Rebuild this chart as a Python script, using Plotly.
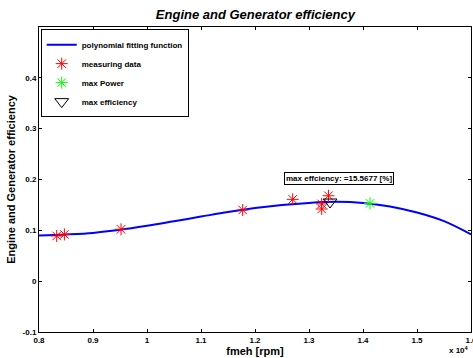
import plotly.graph_objects as go

# polynomial fitting curve
fit_rpm = [8000, 8500, 9000, 9500, 10000, 10500, 11000, 11500, 12000, 12500,
           13000, 13500, 14000, 14500, 15000, 15500, 16000]
fit_eff = [0.090, 0.092, 0.095, 0.101, 0.109, 0.118, 0.127, 0.136, 0.144, 0.150,
           0.154, 0.156, 0.154, 0.147, 0.135, 0.118, 0.092]

# measuring data
meas_rpm = [8328, 8470, 9519, 11772, 12698, 13235, 13235, 13360]
meas_eff = [0.089, 0.092, 0.102, 0.140, 0.161, 0.152, 0.142, 0.168]

# max power
pmax_rpm = [14130]
pmax_eff = [0.153]

# max efficiency
emax_rpm = [13389]
emax_eff = [0.1557]

xtick_vals = [8000, 9000, 10000, 11000, 12000, 13000, 14000, 15000, 16000]
xtick_text = ["0.8", "0.9", "1", "1.1", "1.2", "1.3", "1.4", "1.5", "1.6"]
ytick_vals = [-0.1, 0, 0.1, 0.2, 0.3, 0.4]
ytick_text = ["-0.1", "0", "0.1", "0.2", "0.3", "0.4"]

FONT = "Liberation Sans, Arial, sans-serif"

fig = go.Figure()
fig.add_trace(go.Scatter(x=fit_rpm, y=fit_eff, mode="lines", line_shape="spline",
                         line=dict(color="#0000ff", width=2),
                         name="<b>polynomial fitting function</b>"))
fig.add_trace(go.Scatter(x=meas_rpm, y=meas_eff, mode="markers",
                         marker=dict(symbol="asterisk-open", size=10, color="#ff0000",
                                     line=dict(color="#ff0000", width=1)),
                         name="<b>measuring data</b>"))
fig.add_trace(go.Scatter(x=pmax_rpm, y=pmax_eff, mode="markers",
                         marker=dict(symbol="asterisk-open", size=10, color="#00ff00",
                                     line=dict(color="#00ff00", width=1)),
                         name="<b>max Power</b>"))
fig.add_trace(go.Scatter(x=emax_rpm, y=emax_eff, mode="markers",
                         marker=dict(symbol="triangle-down-open", size=12, color="#000000",
                                     line=dict(color="#000000", width=1)),
                         name="<b>max efficiency</b>"))

fig.add_annotation(x=12545, y=0.201, xref="x", yref="y", xanchor="left", yanchor="middle",
                   text="<b>max effciency: =15.5677 [%]</b>", showarrow=False,
                   font=dict(family=FONT, size=8, color="black"),
                   bordercolor="black", borderwidth=1, borderpad=1, bgcolor="white")

fig.add_annotation(x=1.0, y=-0.058, xref="paper", yref="paper", xanchor="right", yanchor="middle",
                   text="<b>x 10<sup>4</sup></b>", showarrow=False,
                   font=dict(family=FONT, size=8, color="black"))

fig.update_layout(
    width=473, height=358,
    margin=dict(l=39, r=2, t=27, b=26),
    paper_bgcolor="white", plot_bgcolor="white",
    font=dict(family=FONT, size=8, color="black"),
    title=dict(text="<b><i>Engine and Generator efficiency</i></b>", x=0.54, xanchor="center",
               y=0.961, yanchor="middle", font=dict(family=FONT, size=13, color="black")),
    showlegend=True,
    legend=dict(x=0.004, y=0.993, xanchor="left", yanchor="top",
                bgcolor="white", bordercolor="black", borderwidth=1,
                font=dict(family=FONT, size=8, color="black"),
                tracegroupgap=0, itemwidth=30),
)
fig.update_xaxes(range=[8000, 16000], tickvals=xtick_vals, ticktext=["<b>%s</b>" % t for t in xtick_text],
                 ticks="inside", ticklen=3, tickcolor="black", showline=True, linecolor="black",
                 linewidth=1, mirror="ticks", showgrid=False, zeroline=False,
                 ticklabeloverflow="allow", automargin=False,
                 title=dict(text="<b>fmeh [rpm]</b>", standoff=2, font=dict(family=FONT, size=11)))
fig.update_yaxes(range=[-0.1, 0.5], tickvals=ytick_vals, ticktext=["<b>%s</b>" % t for t in ytick_text],
                 ticks="inside", ticklen=3, tickcolor="black", showline=True, linecolor="black",
                 linewidth=1, mirror="ticks", showgrid=False, zeroline=False, automargin=False,
                 title=dict(text="<b>Engine and Generator efficiency</b>", standoff=4,
                            font=dict(family=FONT, size=11)))

fig.write_html("out.html")
